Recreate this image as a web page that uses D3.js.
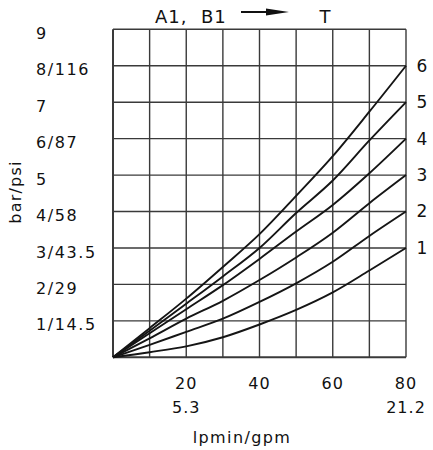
<!DOCTYPE html>
<html>
<head>
<meta charset="utf-8">
<script src="https://cdn.jsdelivr.net/npm/d3@7"></script>
<style>
  html, body { margin: 0; padding: 0; background: #fff; }
  svg { display: block; }
  text { font-family: "DejaVu Sans", sans-serif; fill: #111; }
</style>
</head>
<body>
<svg id="chart" width="433" height="450"></svg>
<script>
// Flow (lpm) sample points
const flow = [0, 10, 20, 30, 40, 50, 60, 70, 80];
// Pressure drop (bar) for each curve
const curve1 = [0, 0.14, 0.30, 0.55, 0.90, 1.30, 1.78, 2.38, 3];
const curve2 = [0, 0.34, 0.70, 1.06, 1.52, 2.03, 2.62, 3.33, 4];
const curve3 = [0, 0.52, 1.06, 1.55, 2.12, 2.74, 3.42, 4.23, 5];
const curve4 = [0, 0.66, 1.32, 1.98, 2.70, 3.45, 4.18, 5.05, 6];
const curve5 = [0, 0.73, 1.47, 2.22, 3.00, 3.96, 4.85, 5.95, 7];
const curve6 = [0, 0.80, 1.61, 2.48, 3.38, 4.43, 5.52, 6.74, 8];
const curveNames = ["1", "2", "3", "4", "5", "6"];
// Tick labels
const yTickValues = [1, 2, 3, 4, 5, 6, 7, 8, 9];
const yTickLabels = ["1/14.5", "2/29", "3/43.5", "4/58", "5", "6/87", "7", "8/116", "9"];
const xTickValues = [20, 40, 60, 80];
const xTickLabels = ["20", "40", "60", "80"];
const xTickLabels2 = ["5.3", "", "", "21.2"];
const xTitle = "lpmin/gpm";
const yTitle = "bar/psi";
const titleLeft = "A1,  B1";
const titleRight = "T";

const series = [curve1, curve2, curve3, curve4, curve5, curve6];

const svg = d3.select("#chart");
const plotL = 113, plotR = 406, plotT = 29.3, plotB = 357.3;

const x = d3.scaleLinear().domain([0, 80]).range([plotL, plotR]);
const y = d3.scaleLinear().domain([0, 9]).range([plotB, plotT]);

const gridColor = "#3a3a3a";

// vertical grid
svg.append("g").selectAll("line")
  .data(d3.range(0, 81, 10))
  .join("line")
  .attr("x1", d => x(d)).attr("x2", d => x(d))
  .attr("y1", y(0)).attr("y2", y(9))
  .attr("stroke", gridColor)
  .attr("stroke-width", d => (d === 0 ? 2 : 1.4));

// horizontal grid
svg.append("g").selectAll("line")
  .data(d3.range(0, 10, 1))
  .join("line")
  .attr("x1", x(0)).attr("x2", x(80))
  .attr("y1", d => y(d)).attr("y2", d => y(d))
  .attr("stroke", gridColor)
  .attr("stroke-width", d => (d === 0 ? 2 : 1.4));

// curves
const line = d3.line()
  .x((d, i) => x(flow[i]))
  .y(d => y(d))
  .curve(d3.curveMonotoneX);

svg.append("g").selectAll("path")
  .data(series)
  .join("path")
  .attr("d", d => line(d))
  .attr("fill", "none")
  .attr("stroke", "#151515")
  .attr("stroke-width", 1.9);

// curve labels at right
svg.append("g").selectAll("text")
  .data(series)
  .join("text")
  .attr("x", x(80) + 16)
  .attr("y", d => y(d[d.length - 1]))
  .attr("dy", "0.35em")
  .attr("text-anchor", "middle")
  .attr("font-size", 17)
  .text((d, i) => curveNames[i]);

// y tick labels
svg.append("g").selectAll("text")
  .data(yTickValues)
  .join("text")
  .attr("x", 36)
  .attr("y", d => y(d) + 4)
  .attr("dy", "0.35em")
  .attr("font-size", 16)
  .attr("letter-spacing", 1.6)
  .text((d, i) => yTickLabels[i]);

// x tick labels
svg.append("g").selectAll("text")
  .data(xTickValues)
  .join("text")
  .attr("x", d => x(d))
  .attr("y", 383)
  .attr("dy", "0.35em")
  .attr("text-anchor", "middle")
  .attr("font-size", 16)
  .attr("letter-spacing", 1)
  .text((d, i) => xTickLabels[i]);

svg.append("g").selectAll("text")
  .data(xTickValues)
  .join("text")
  .attr("x", d => x(d))
  .attr("y", 407)
  .attr("dy", "0.35em")
  .attr("text-anchor", "middle")
  .attr("font-size", 16)
  .attr("letter-spacing", 1)
  .text((d, i) => xTickLabels2[i]);

// axis titles
svg.append("text")
  .attr("x", 242).attr("y", 437)
  .attr("dy", "0.35em")
  .attr("text-anchor", "middle")
  .attr("font-size", 16)
  .attr("letter-spacing", 1.4)
  .text(xTitle);

svg.append("text")
  .attr("transform", "translate(15,192) rotate(-90)")
  .attr("dy", "0.35em")
  .attr("text-anchor", "middle")
  .attr("font-size", 16)
  .attr("letter-spacing", 1.2)
  .text(yTitle);

// title with arrow
svg.append("text")
  .attr("x", 155).attr("y", 17)
  .attr("dy", "0.35em")
  .attr("font-size", 18)
  .attr("letter-spacing", 1)
  .attr("xml:space", "preserve")
  .style("white-space", "pre")
  .text(titleLeft);

svg.append("line")
  .attr("x1", 241).attr("x2", 268)
  .attr("y1", 12).attr("y2", 12)
  .attr("stroke", "#111").attr("stroke-width", 2);
svg.append("path")
  .attr("d", "M266,8.5 L289,12 L266,15.5 Z")
  .attr("fill", "#111");

svg.append("text")
  .attr("x", 325).attr("y", 17)
  .attr("dy", "0.35em")
  .attr("text-anchor", "middle")
  .attr("font-size", 18)
  .text(titleRight);
</script>
</body>
</html>
